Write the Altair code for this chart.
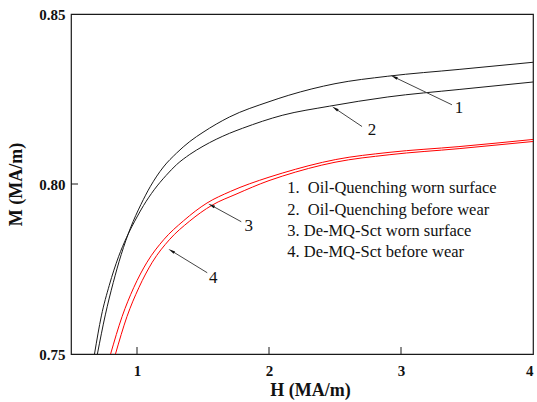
import math
import altair as alt
import pandas as pd

# ---- data ----
H1 = [0.700, 0.76, 0.82, 0.88, 0.95, 1.03, 1.10, 1.20, 1.30, 1.40, 1.50, 1.70, 2.00, 2.15, 2.50, 2.90, 3.44, 4.00]
M1 = [0.7500, 0.7615, 0.7710, 0.7792, 0.7870, 0.7940, 0.7992, 0.8050, 0.8091, 0.8125, 0.8152, 0.8197, 0.8242, 0.8261, 0.8295, 0.8317, 0.8337, 0.8358]

H2 = [0.678, 0.73, 0.79, 0.86, 0.92, 1.00, 1.05, 1.13, 1.22, 1.30, 1.40, 1.50, 1.70, 1.80, 2.10, 2.46, 2.90, 3.44, 4.00]
M2 = [0.7500, 0.7612, 0.7702, 0.7786, 0.7842, 0.7903, 0.7937, 0.7983, 0.8025, 0.8057, 0.8087, 0.8111, 0.8149, 0.8164, 0.8202, 0.8229, 0.8256, 0.8278, 0.8300]

H3 = [0.800, 0.887, 0.975, 1.076, 1.202, 1.353, 1.530, 1.707, 2.00, 2.10, 2.506, 2.909, 3.439, 4.00]
M3 = [0.7500, 0.7610, 0.7695, 0.7770, 0.7836, 0.7892, 0.7944, 0.7978, 0.8020, 0.8032, 0.8072, 0.8093, 0.8110, 0.8131]

H4 = [0.837, 0.924, 1.014, 1.116, 1.245, 1.396, 1.570, 1.750, 2.00, 2.10, 2.500, 2.910, 3.440, 4.00]
M4 = [0.7500, 0.7610, 0.7695, 0.7770, 0.7836, 0.7890, 0.7938, 0.7970, 0.8010, 0.8023, 0.8064, 0.8086, 0.8104, 0.8125]

series_ids = ["1", "2", "3", "4"]
series_colors = ["#1a1a1a", "#1a1a1a", "#ff0000", "#ff0000"]

legend_lines = ["1.\u00a0 Oil-Quenching worn surface", "2.\u00a0 Oil-Quenching before wear",
                "3. De-MQ-Sct worn surface", "4. De-MQ-Sct before wear"]
legend_H = [2.138, 2.138, 2.138, 2.138]
legend_M = [0.7989, 0.7924, 0.7862, 0.7800]

# annotation arrows: tip on the curve, tail near the number
tip_H = [2.924, 2.478, 1.540, 1.238]
tip_M = [0.8319, 0.8228, 0.7942, 0.7809]
tail_H = [3.386, 2.705, 1.790, 1.532]
tail_M = [0.8233, 0.8169, 0.7889, 0.7739]
num_H = [3.439, 2.781, 1.846, 1.578]
num_M = [0.8224, 0.8160, 0.7877, 0.7725]

x_ticks = [1, 2, 3]
y_ticks = [0.80]

W, HGT = 462, 340
x_dom = [0.5, 4.0]
y_dom = [0.75, 0.85]

# ---- tables ----
rows = []
for sid, hs, ms in zip(series_ids, [H1, H2, H3, H4], [M1, M2, M3, M4]):
    for i, (h, m) in enumerate(zip(hs, ms)):
        rows.append({"series": sid, "H": h, "M": m, "i": i})
curves = pd.DataFrame(rows)

sx = W / (x_dom[1] - x_dom[0])
sy = HGT / (y_dom[1] - y_dom[0])
arr = []
for k in range(4):
    dx = (tip_H[k] - tail_H[k]) * sx
    dy = -(tip_M[k] - tail_M[k]) * sy
    L = math.hypot(dx, dy)
    ux, uy = dx / L, dy / L
    ang = math.degrees(math.atan2(ux, -uy)) % 360
    back = 3.5
    hh = tip_H[k] - ux * back / sx
    hm = tip_M[k] + uy * back / sy
    arr.append({"tH": tail_H[k], "tM": tail_M[k], "pH": tip_H[k], "pM": tip_M[k],
                "hH": hh, "hM": hm, "ang": ang, "nH": num_H[k], "nM": num_M[k],
                "lab": series_ids[k]})
arrows = pd.DataFrame(arr)
legend_df = pd.DataFrame({"t": legend_lines, "H": legend_H, "M": legend_M})

FONT = "Liberation Serif"
xs = alt.Scale(domain=x_dom, nice=False, zero=False)
ys = alt.Scale(domain=y_dom, nice=False, zero=False)

lines = alt.Chart(curves).mark_line(strokeWidth=1, clip=True, interpolate="monotone").encode(
    x=alt.X("H:Q", scale=xs, title="H (MA/m)",
            axis=alt.Axis(values=[1, 2, 3, 4], format="d", ticks=False, domain=False, grid=False,
                          labelPadding=9, titlePadding=3, titleX=239)),
    y=alt.Y("M:Q", scale=ys, title="M (MA/m)",
            axis=alt.Axis(values=[0.75, 0.80, 0.85], format=".2f", ticks=False, domain=False, grid=False,
                          labelPadding=6, titlePadding=13)),
    color=alt.Color("series:N", scale=alt.Scale(domain=series_ids, range=series_colors), legend=None),
    detail="series:N",
    order="i:Q",
)

xtick = alt.Chart(pd.DataFrame({"v": x_ticks})).mark_rule(color="#1a1a1a", strokeWidth=1).encode(
    x=alt.X("v:Q", scale=xs), y=alt.value(HGT), y2=alt.value(HGT - 7))
ytick = alt.Chart(pd.DataFrame({"v": y_ticks})).mark_rule(color="#1a1a1a", strokeWidth=1).encode(
    y=alt.Y("v:Q", scale=ys), x=alt.value(0), x2=alt.value(7))

arrow_lines = alt.Chart(arrows).mark_rule(color="#444444", strokeWidth=1).encode(
    x=alt.X("tH:Q", scale=xs), y=alt.Y("tM:Q", scale=ys), x2="hH:Q", y2="hM:Q")
heads = alt.Chart(arrows).mark_point(
    shape="M0,-1L0.4,1L-0.4,1Z", filled=True, color="#111111", size=49, opacity=1).encode(
    x=alt.X("hH:Q", scale=xs), y=alt.Y("hM:Q", scale=ys), angle=alt.Angle("ang:Q", scale=None))
nums = alt.Chart(arrows).mark_text(font=FONT, fontSize=17, color="#111111", align="center",
                                   baseline="middle").encode(
    x=alt.X("nH:Q", scale=xs), y=alt.Y("nM:Q", scale=ys), text="lab:N")
leg = alt.Chart(legend_df).mark_text(font=FONT, fontSize=16.5, color="#111111", align="left",
                                     baseline="middle").encode(
    x=alt.X("H:Q", scale=xs), y=alt.Y("M:Q", scale=ys), text="t:N")

chart = alt.layer(lines, xtick, ytick, arrow_lines, heads, nums, leg).properties(
    width=W, height=HGT,
    autosize=alt.AutoSizeParams(type="none"),
    padding={"left": 71, "top": 14, "right": 4, "bottom": 48},
    background="white",
).configure_view(stroke="#1a1a1a", strokeWidth=1.2).configure_axis(
    labelFont=FONT, labelFontSize=15, labelFontWeight="bold", labelColor="#111111",
    titleFont=FONT, titleFontSize=18, titleFontWeight="bold", titleColor="#111111",
)

chart.save("out.html", embed_options={"renderer": "svg", "actions": False})
